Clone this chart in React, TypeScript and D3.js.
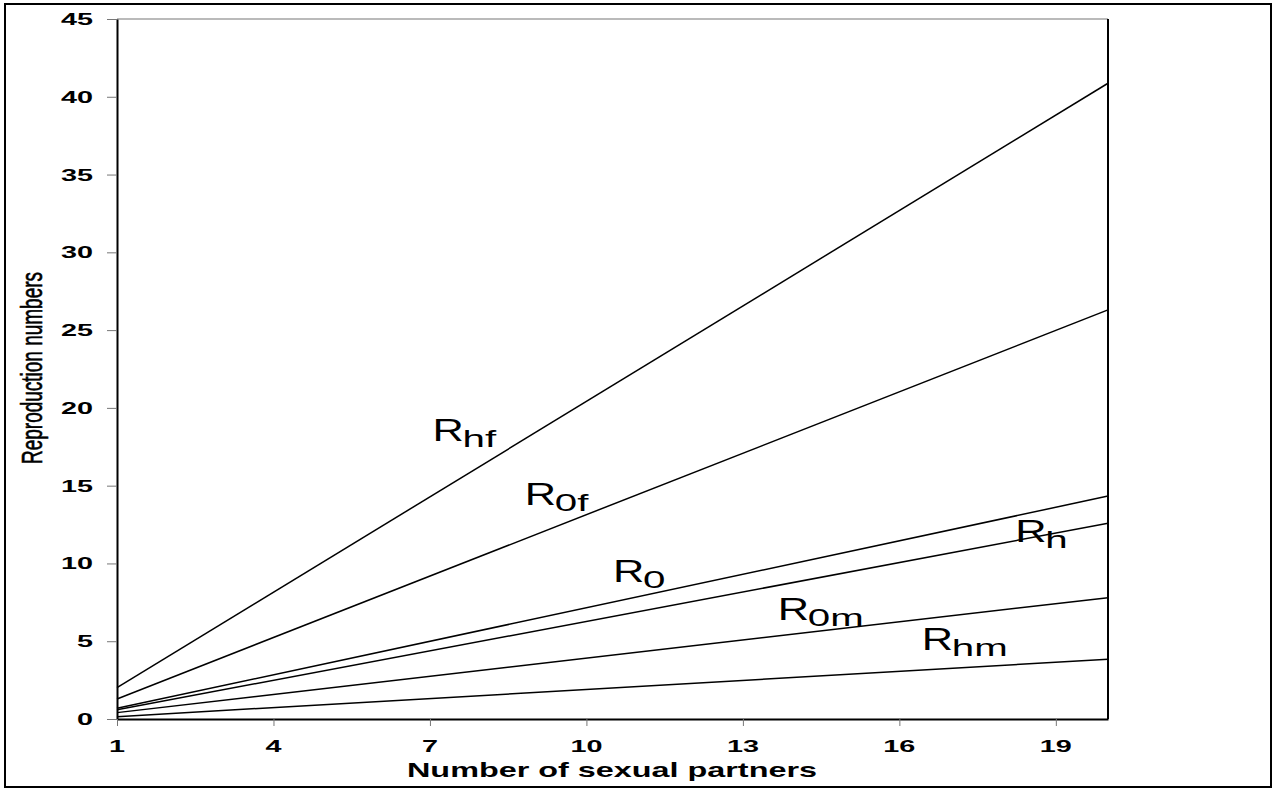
import React from 'react';
import { useRef, useEffect } from 'react';
import { select, scaleLinear, line, axisLeft, axisBottom } from 'd3';

// number of sexual partners at the two ends of each line
const partners = [1, 20];

// reproduction numbers at partners = 1 and 20
const Rhf = [2.01, 40.87];
const R0f = [1.29, 26.3];
const R0 = [0.69, 14.33];
const Rh = [0.6, 12.58];
const R0m = [0.41, 7.8];
const Rhm = [0.15, 3.84];

const seriesList = [Rhf, R0f, R0, Rh, R0m, Rhm];

// labels placed inside the plot: subscript, x, y (data units)
const labelNames = ['hf', '0f', '0', 'h', '0m', 'hm'];
const labelX = [7.05, 8.82, 10.51, 18.22, 13.67, 16.43];
const labelY = [17.9, 13.75, 8.8, 11.38, 6.36, 4.43];

const xTicks = [1, 4, 7, 10, 13, 16, 19];
const yTicks = [0, 5, 10, 15, 20, 25, 30, 35, 40, 45];

const W = 1277;
const H = 790;
const margin = { left: 117, right: 1108, top: 19, bottom: 719 };
const FONT = 'Liberation Sans, Arial, Helvetica, sans-serif';

function App() {
  const svgRef = useRef<SVGSVGElement>(null);

  useEffect(() => {
    const svg = select(svgRef.current);
    svg.selectAll('*').remove();

    const x = scaleLinear().domain([1, 20]).range([margin.left, margin.right]);
    const y = scaleLinear().domain([0, 45]).range([margin.bottom, margin.top]);

    // outer frame
    svg.append('rect')
      .attr('x', 5).attr('y', 4).attr('width', 1266).attr('height', 783)
      .attr('fill', 'white').attr('stroke', 'black').attr('stroke-width', 2);

    // top edge of plot (grey) and right edge (black)
    svg.append('line')
      .attr('x1', margin.left).attr('x2', margin.right)
      .attr('y1', margin.top).attr('y2', margin.top)
      .attr('stroke', '#777').attr('stroke-width', 1.2);
    svg.append('line')
      .attr('x1', margin.right).attr('x2', margin.right)
      .attr('y1', margin.top).attr('y2', margin.bottom)
      .attr('stroke', 'black').attr('stroke-width', 2);

    const yAxis = axisLeft(y).tickValues(yTicks).tickSize(10).tickFormat(() => '').tickSizeOuter(0);
    const gy = svg.append('g').attr('transform', `translate(${margin.left},0)`).call(yAxis);
    gy.select('.domain').attr('stroke', 'black').attr('stroke-width', 2);
    gy.selectAll('.tick line').attr('stroke', '#777');

    const xAxis = axisBottom(x).tickValues(xTicks).tickSize(7).tickFormat(() => '').tickSizeOuter(0);
    const gx = svg.append('g').attr('transform', `translate(0,${margin.bottom})`).call(xAxis);
    gx.select('.domain').attr('stroke', 'black').attr('stroke-width', 2);
    gx.selectAll('.tick line').attr('stroke', '#777');

    // tick labels: bold and stretched wide, as in the original
    svg.selectAll('.ylab')
      .data(yTicks)
      .join('text')
      .attr('class', 'ylab')
      .attr('transform', (d) => `translate(93,${y(d) + 6}) scale(1.8,1)`)
      .attr('text-anchor', 'end')
      .style('font-family', FONT).style('font-weight', 'bold').style('font-size', '16px')
      .text((d) => d);

    svg.selectAll('.xlab')
      .data(xTicks)
      .join('text')
      .attr('class', 'xlab')
      .attr('transform', (d) => `translate(${x(d)},752) scale(1.8,1)`)
      .attr('text-anchor', 'middle')
      .style('font-family', FONT).style('font-weight', 'bold').style('font-size', '16px')
      .text((d) => d);

    const path = line<number>()
      .x((d, i) => x(partners[i]))
      .y((d) => y(d));

    svg.selectAll('.series')
      .data(seriesList)
      .join('path')
      .attr('class', 'series')
      .attr('d', (d) => path(d))
      .attr('fill', 'none')
      .attr('stroke', 'black')
      .attr('stroke-width', 1.5);

    // R labels with subscripts (the subscript is stretched wider than the R)
    labelNames.forEach((name, i) => {
      const lx = x(labelX[i]);
      const ly = y(labelY[i]);
      svg.append('text')
        .attr('transform', `translate(${lx},${ly}) scale(1.4,1)`)
        .style('font-family', FONT).style('font-size', '31px')
        .text('R');
      svg.append('text')
        .attr('transform', `translate(${lx + 30},${ly + 6}) scale(1.75,1)`)
        .style('font-family', FONT).style('font-size', '23px')
        .text(name);
    });

    // axis titles
    svg.append('text')
      .attr('x', 612).attr('y', 777)
      .attr('text-anchor', 'middle')
      .style('font-family', FONT)
      .style('font-weight', 'bold').style('font-size', '21px')
      .attr('textLength', 410).attr('lengthAdjust', 'spacingAndGlyphs')
      .text('Number of sexual partners');

    svg.append('text')
      .attr('transform', 'translate(42,368) rotate(-90)')
      .attr('text-anchor', 'middle')
      .style('font-family', FONT)
      .style('font-size', '30px')
      .attr('stroke', 'black').attr('stroke-width', 0.6)
      .attr('textLength', 192).attr('lengthAdjust', 'spacingAndGlyphs')
      .text('Reproduction numbers');
  }, []);

  return (
    <div style={{ position: 'absolute', left: 0, top: 0 }}>
      <svg ref={svgRef} width={W} height={H} style={{ display: 'block' }} />
    </div>
  );
}

export default App;
